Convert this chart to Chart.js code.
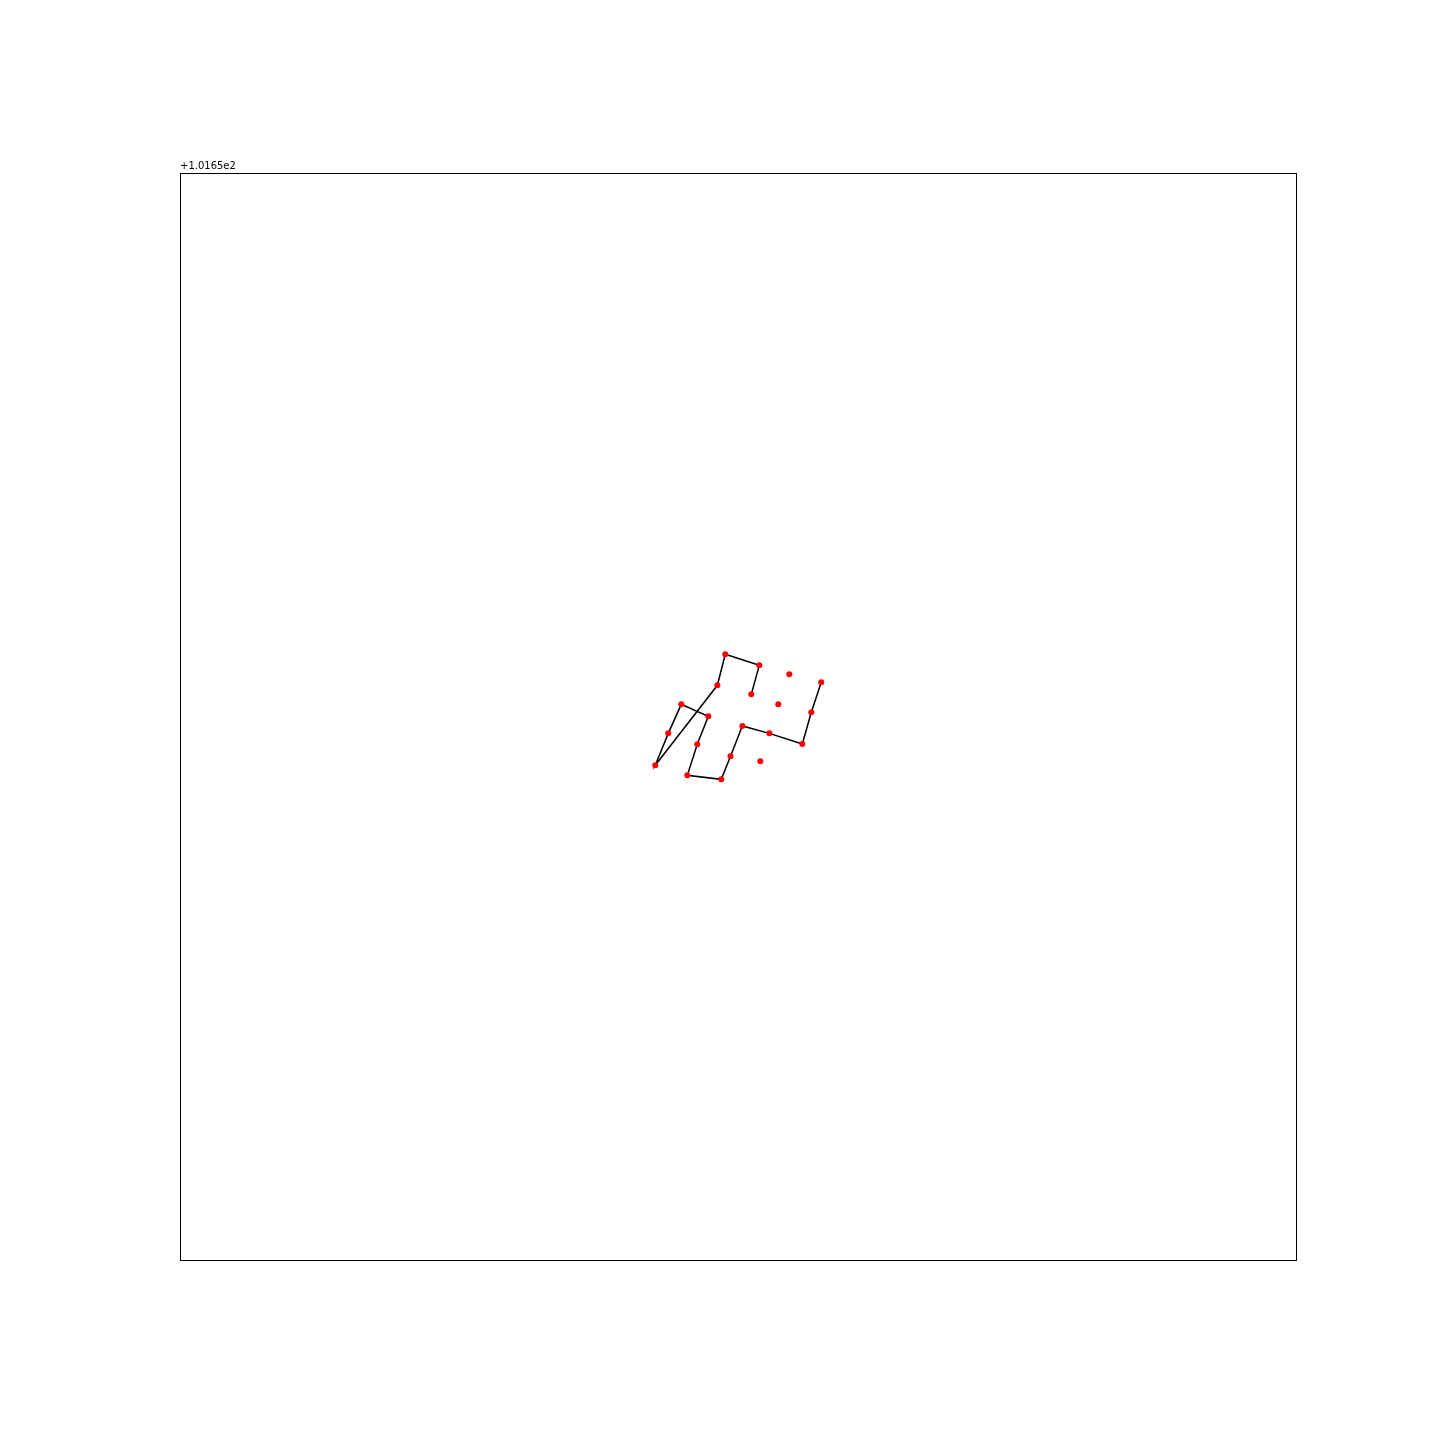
<!DOCTYPE html>
<html>
<head>
<meta charset="utf-8">
<script src="https://cdn.jsdelivr.net/npm/chart.js@4/dist/chart.umd.min.js"></script>
<style>
  body { margin: 0; background: #fff; }
  canvas { display: block; }
</style>
</head>
<body>
<canvas id="chart" width="1440" height="1440"></canvas>
<script>
// all points (x, y in axis units)
const pointX = [42.59, 43.75, 44.92, 47.34, 46.35, 45.46, 48.50, 49.33, 50.39, 52.81, 55.76, 56.57, 57.46, 48.15, 48.86, 51.91, 51.19, 54.60, 53.61, 52.00];
const pointY = [45.51, 48.45, 51.12, 50.02, 47.44, 44.59, 44.22, 46.34, 49.13, 48.45, 47.47, 50.39, 53.15, 52.87, 55.72, 54.71, 52.04, 53.88, 51.12, 45.88];
// order in which the black path visits the points (indices into the arrays above)
const pathOrder = [16, 15, 14, 13, 0, 1, 2, 3, 4, 5, 6, 7, 8, 9, 10, 11, 12];
const offsetLabel = '+1.0165e2';

const points = pointX.map((x, i) => ({ x: x, y: pointY[i] }));
const path = pathOrder.map(i => points[i]);

const frame = {
  id: 'frame',
  afterDraw(chart) {
    const { ctx, chartArea: a } = chart;
    ctx.save();
    ctx.strokeStyle = '#000';
    ctx.lineWidth = 1;
    ctx.strokeRect(a.left + 0.5, a.top + 0.5, a.right - a.left, a.bottom - a.top);
    ctx.fillStyle = '#000';
    ctx.font = '10px "DejaVu Sans"';
    ctx.textBaseline = 'bottom';
    ctx.fillText(offsetLabel, a.left, a.top - 2);
    ctx.restore();
  }
};

new Chart(document.getElementById('chart'), {
  type: 'scatter',
  data: {
    datasets: [
      {
        data: points,
        backgroundColor: '#ff0000',
        borderColor: '#ff0000',
        pointRadius: 3,
        borderWidth: 0,
        order: 0
      },
      {
        data: path,
        showLine: true,
        borderColor: '#000',
        borderWidth: 1.5,
        pointRadius: 0,
        fill: false,
        order: 1
      }
    ]
  },
  plugins: [frame],
  options: {
    responsive: false,
    animation: false,
    layout: { padding: { left: 180, right: 144, top: 173, bottom: 180 } },
    plugins: { legend: { display: false }, tooltip: { enabled: false } },
    scales: {
      x: { type: 'linear', min: 0, max: 100, display: false },
      y: { type: 'linear', min: 0, max: 100, display: false }
    }
  }
});
</script>
</body>
</html>
